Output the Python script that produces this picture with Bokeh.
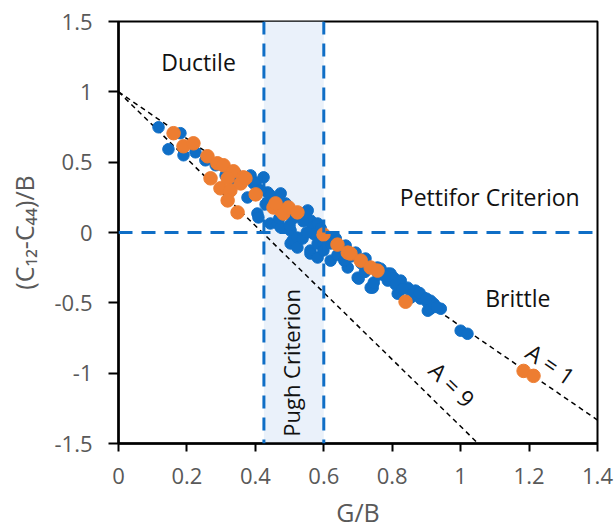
from bokeh.plotting import figure
from bokeh.models import Range1d, Span, BoxAnnotation, Label, FixedTicker
from bokeh.embed import file_html
from bokeh.resources import INLINE

# ---- data ----
blue_x = [0.117, 0.146, 0.190, 0.181, 0.225, 0.254, 0.284, 0.313, 0.342, 0.357,
          0.377, 0.386, 0.395, 0.401, 0.406, 0.409, 0.424, 0.436, 0.444, 0.444,
          0.465, 0.474, 0.474, 0.488, 0.503, 0.503, 0.509, 0.523, 0.523, 0.523,
          0.532, 0.538, 0.553, 0.561, 0.561, 0.561, 0.567, 0.582, 0.582, 0.582,
          0.591, 0.599, 0.599, 0.620, 0.620, 0.635, 0.664, 0.670, 0.693, 0.699,
          0.702, 0.722, 0.737, 0.743, 0.746, 0.757, 0.766, 0.787, 0.787, 0.795,
          0.804, 0.816, 0.825, 0.845, 0.854, 0.868, 0.874, 0.883, 0.892, 0.904,
          0.904, 0.912, 0.912, 0.921, 0.942, 1.000, 1.020,
          0.450, 0.470, 0.490, 0.510, 0.540, 0.570, 0.600, 0.620, 0.650, 0.680,
          0.710, 0.730, 0.760, 0.780, 0.810, 0.830, 0.860, 0.880, 0.900, 0.930,
          0.470, 0.500, 0.550, 0.640, 0.660, 0.720, 0.430, 0.415, 0.330]
blue_y = [0.748, 0.592, 0.549, 0.706, 0.570, 0.513, 0.478, 0.406, 0.421, 0.371,
          0.249, 0.406, 0.349, 0.356, 0.135, 0.107, 0.392, 0.285, 0.264, 0.064,
          0.064, 0.278, 0.036, 0.207, 0.014, -0.078, -0.057, 0.135, -0.036, -0.107,
          0.135, -0.043, 0.157, 0.086, -0.128, -0.150, 0.036, 0.064, -0.078, -0.178,
          0.029, -0.078, -0.128, -0.078, -0.200, -0.043, -0.093, -0.249, -0.143, -0.321,
          -0.328, -0.185, -0.392, -0.392, -0.356, -0.249, -0.257, -0.292, -0.342, -0.292,
          -0.321, -0.435, -0.342, -0.392, -0.463, -0.413, -0.428, -0.470, -0.463, -0.499,
          -0.556, -0.485, -0.542, -0.506, -0.542, -0.698, -0.720,
          0.220, 0.180, 0.160, 0.100, 0.080, -0.010, -0.030, -0.050, -0.120, -0.170,
          -0.220, -0.240, -0.300, -0.310, -0.370, -0.400, -0.440, -0.430, -0.470, -0.530,
          0.100, 0.050, 0.000, -0.160, -0.200, -0.280, 0.200, 0.300, 0.380]

orange_x = [0.161, 0.190, 0.219, 0.260, 0.289, 0.307, 0.336, 0.365, 0.269, 0.298,
            0.319, 0.327, 0.357, 0.371, 0.319, 0.348, 0.401, 0.453, 0.474, 0.482,
            0.497, 0.523, 0.459, 0.599, 0.640, 0.670, 0.678, 0.708, 0.737, 0.757,
            0.839, 1.184, 1.213]
orange_y = [0.706, 0.613, 0.634, 0.542, 0.492, 0.478, 0.435, 0.392, 0.385, 0.314,
            0.385, 0.299, 0.349, 0.385, 0.228, 0.143, 0.271, 0.178, 0.157, 0.135,
            0.178, 0.143, 0.207, -0.014, -0.086, -0.143, -0.150, -0.200, -0.249, -0.271,
            -0.492, -0.984, -1.019]

a1_x = [0.0, 1.4]
a1_y = [1.0, -1.333]
a9_x = [0.0, 1.4]
a9_y = [1.0, -2.33]

pugh_left = 0.425
pugh_right = 0.6
pettifor_y = 0.0

x_ticks = [0, 0.2, 0.4, 0.6, 0.8, 1.0, 1.2, 1.4]
x_tick_labels = ["0", "0.2", "0.4", "0.6", "0.8", "1", "1.2", "1.4"]
y_ticks = [-1.5, -1.0, -0.5, 0, 0.5, 1.0, 1.5]
y_tick_labels = ["-1.5", "-1", "-0.5", "0", "0.5", "1", "1.5"]

BLUE = "#0F6EC6"
ORANGE = "#ED7D31"
FONT = "Open Sans"

p = figure(width=614, height=532, output_backend="svg", toolbar_location=None,
           x_range=Range1d(0, 1.4), y_range=Range1d(-1.5, 1.5),
           min_border_left=118, min_border_right=17, min_border_top=21, min_border_bottom=89)
p.xgrid.visible = False
p.ygrid.visible = False
p.outline_line_color = "black"
p.outline_line_width = 2
p.background_fill_color = "white"
p.border_fill_color = "white"

# Pugh shaded band
p.add_layout(BoxAnnotation(left=pugh_left, right=pugh_right, fill_color="#EAF1FA",
                           fill_alpha=1.0, line_alpha=0, level="underlay"))

# criteria lines
for xv in (pugh_left, pugh_right):
    p.add_layout(Span(location=xv, dimension="height", line_color=BLUE,
                      line_width=3, line_dash="13 9"))
p.add_layout(Span(location=pettifor_y, dimension="width", line_color=BLUE,
                  line_width=3, line_dash="14 9"))

# A lines
p.line(a1_x, a1_y, line_color="black", line_width=1.5, line_dash="5 4")
p.line(a9_x, a9_y, line_color="black", line_width=1.5, line_dash="5 4")

# points
p.scatter(blue_x, blue_y, size=11.5, fill_color=BLUE, line_color=BLUE)
p.scatter(orange_x, orange_y, size=13.5, fill_color=ORANGE, line_color=ORANGE)

# labels
def lab(x, y, t, angle=0.0, size="23px"):
    p.add_layout(Label(x=x, y=y, text=t, angle=angle, text_align="center",
                       text_baseline="middle", text_font=FONT, text_font_size=size,
                       text_color="#111111"))

lab(0.234, 1.212, "Ductile")
lab(1.085, 0.249, "Pettifor Criterion")
lab(1.167, -0.463, "Brittle")
lab(0.503, -0.927, "Pugh Criterion", angle=1.5708, size="22px")
lab(1.263, -0.935, "A = 1", angle=-0.60)
lab(0.975, -1.08, "A = 9", angle=-0.773)

# axes
for ax in (p.xaxis[0], p.yaxis[0]):
    ax.axis_line_color = "black"
    ax.axis_line_width = 2.5
    ax.major_tick_line_color = "black"
    ax.major_tick_line_width = 2
    ax.minor_tick_line_color = None
    ax.major_tick_in = 0
    ax.major_label_text_font = FONT
    ax.major_label_text_font_size = "22px"
    ax.major_label_text_color = "#595959"
    ax.axis_label_text_font = FONT
    ax.axis_label_text_font_size = "25px"
    ax.axis_label_text_font_style = "normal"
    ax.axis_label_text_color = "#595959"

p.xaxis.ticker = FixedTicker(ticks=x_ticks)
p.xaxis.major_label_overrides = dict(zip(x_ticks, x_tick_labels))
p.yaxis.ticker = FixedTicker(ticks=y_ticks)
p.yaxis.major_label_overrides = dict(zip(y_ticks, y_tick_labels))
p.xaxis.major_tick_out = 8
p.yaxis.major_tick_out = 10
p.xaxis.major_label_standoff = 16
p.yaxis.major_label_standoff = 16
p.xaxis.axis_label = "G/B"
p.yaxis.axis_label = "(C\u2081\u2082-C\u2084\u2084)/B"
p.xaxis.axis_label_standoff = 8
p.yaxis.axis_label_standoff = 10

open("out.html", "w").write(file_html(p, INLINE))
